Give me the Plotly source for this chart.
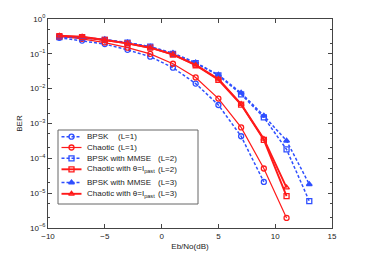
import plotly.graph_objects as go

snr = [-9, -7, -5, -3, -1, 1, 3, 5, 7, 9, 11, 13]

bpsk_l1 = [0.29, 0.24, 0.19, 0.13, 0.083, 0.040, 0.014, 3.4e-3, 4.3e-4, 2.1e-5]
chaotic_l1 = [0.32, 0.27, 0.21, 0.15, 0.10, 0.052, 0.021, 5.2e-3, 7.7e-4, 5.1e-5, 1.95e-6]
bpsk_mmse_l2 = [0.30, 0.29, 0.25, 0.21, 0.16, 0.10, 0.054, 0.024, 6.9e-3, 1.5e-3, 1.8e-4, 5.9e-6]
chaotic_l2 = [0.32, 0.30, 0.25, 0.20, 0.15, 0.095, 0.047, 0.018, 3.5e-3, 3.4e-4, 8.2e-6]
bpsk_mmse_l3 = [0.31, 0.30, 0.26, 0.21, 0.16, 0.105, 0.056, 0.025, 7.6e-3, 1.67e-3, 3.2e-4, 1.8e-5]
chaotic_l3 = [0.33, 0.31, 0.25, 0.20, 0.15, 0.097, 0.048, 0.019, 3.6e-3, 3.6e-4, 1.45e-5]

legend_names = ["BPSK", "Chaotic", "BPSK with MMSE", "Chaotic with \u03b8=I<sub>past</sub>",
                "BPSK with MMSE", "Chaotic with \u03b8=I<sub>past</sub>"]
legend_tags = ["(L=1)", "(L=1)", "(L=2)", "(L=2)", "(L=3)", "(L=3)"]

y_tickvals = [1e-6, 1e-5, 1e-4, 1e-3, 1e-2, 1e-1, 1]
y_ticktext = ["10<sup>\u22126</sup>", "10<sup>\u22125</sup>", "10<sup>\u22124</sup>",
              "10<sup>\u22123</sup>", "10<sup>\u22122</sup>", "10<sup>\u22121</sup>", "10<sup>0</sup>"]
x_tickvals = [-10, -5, 0, 5, 10, 15]
x_ticktext = ["\u221210", "\u22125", "0", "5", "10", "15"]

BLUE = "#2f4fff"
RED = "#ff1a1a"
FONT = "Liberation Sans, Arial, sans-serif"
DASH = "3px,2px"

styles = [
    (BLUE, DASH, 1.5, "circle-open"),
    (RED, "solid", 1.2, "circle-open"),
    (BLUE, DASH, 1.5, "square-open"),
    (RED, "solid", 1.9, "square-open"),
    (BLUE, DASH, 1.5, "triangle-up"),
    (RED, "solid", 1.9, "triangle-up-open"),
]
data = [bpsk_l1, chaotic_l1, bpsk_mmse_l2, chaotic_l2, bpsk_mmse_l3, chaotic_l3]

fig = go.Figure()
for vals, (col, dash, lw, sym), nm, tag in zip(data, styles, legend_names, legend_tags):
    fig.add_trace(go.Scatter(
        x=snr[:len(vals)], y=vals, name=nm + " " + tag, mode="lines+markers",
        line=dict(color=col, dash=dash, width=lw), showlegend=False,
        marker=dict(symbol=sym, size=5, color=col, line=dict(color=col, width=1.3)),
    ))

# ---- hand-built legend on an overlay axis in pixel-like units ----
box_x = [58, 198, 198, 58, 58]
box_y = [130, 130, 204, 204, 130]
fig.add_trace(go.Scatter(x=box_x, y=box_y, xaxis="x2", yaxis="y2", mode="lines",
                         fill="toself", fillcolor="white", line=dict(color="#666", width=1),
                         showlegend=False, hoverinfo="skip"))
entry_y = [136.7, 147.5, 158.3, 169.3, 182.5, 193.8]
tag_x = [116, 116, 156, 156, 156, 156]
for (col, dash, lw, sym), nm, tag, ey, tx in zip(styles, legend_names, legend_tags, entry_y, tag_x):
    fig.add_trace(go.Scatter(x=[61.5, 71.5, 81.5], y=[ey, ey, ey], xaxis="x2", yaxis="y2",
                             mode="lines", line=dict(color=col, dash=dash, width=lw),
                             showlegend=False, hoverinfo="skip"))
    fig.add_trace(go.Scatter(x=[71.5], y=[ey], xaxis="x2", yaxis="y2", mode="markers",
                             marker=dict(symbol=sym, size=5, color=col, line=dict(color=col, width=1.3)),
                             showlegend=False, hoverinfo="skip"))
    fig.add_annotation(x=85, y=ey, xref="x2", yref="y2", text=nm, showarrow=False,
                       xanchor="left", yanchor="middle",
                       font=dict(family=FONT, size=8, color="#222"))
    fig.add_annotation(x=tx, y=ey, xref="x2", yref="y2", text=tag, showarrow=False,
                       xanchor="left", yanchor="middle",
                       font=dict(family=FONT, size=8, color="#222"))

axis_common = dict(
    showgrid=False, zeroline=False, showline=True, linecolor="#444", linewidth=1,
    mirror="allticks", ticks="inside", ticklen=4, tickcolor="#444", automargin=False,
    tickfont=dict(family=FONT, size=8, color="#222"),
)

fig.update_layout(
    xaxis=dict(range=[-10, 15], tickvals=x_tickvals, ticktext=x_ticktext,
               title=dict(text="Eb/No(dB)", font=dict(size=8, family=FONT, color="#222"), standoff=3),
               **axis_common),
    yaxis=dict(type="log", range=[-6, 0], tickvals=y_tickvals, ticktext=y_ticktext,
               minor=dict(ticks="inside", ticklen=2, tickcolor="#444", showgrid=False),
               title=dict(text="BER", font=dict(size=8, family=FONT, color="#222"), standoff=6),
               **axis_common),
    xaxis2=dict(range=[48, 332], overlaying="x", visible=False, fixedrange=True),
    yaxis2=dict(range=[228, 19], overlaying="y", visible=False, fixedrange=True),
    width=367, height=257,
    margin=dict(l=48, r=35, t=19, b=29, autoexpand=False),
    paper_bgcolor="white", plot_bgcolor="white",
    showlegend=False,
)

fig.write_html("out.html", config={"displayModeBar": False, "staticPlot": True},
               post_script="document.body.style.margin='0';document.body.style.overflow='hidden';")
